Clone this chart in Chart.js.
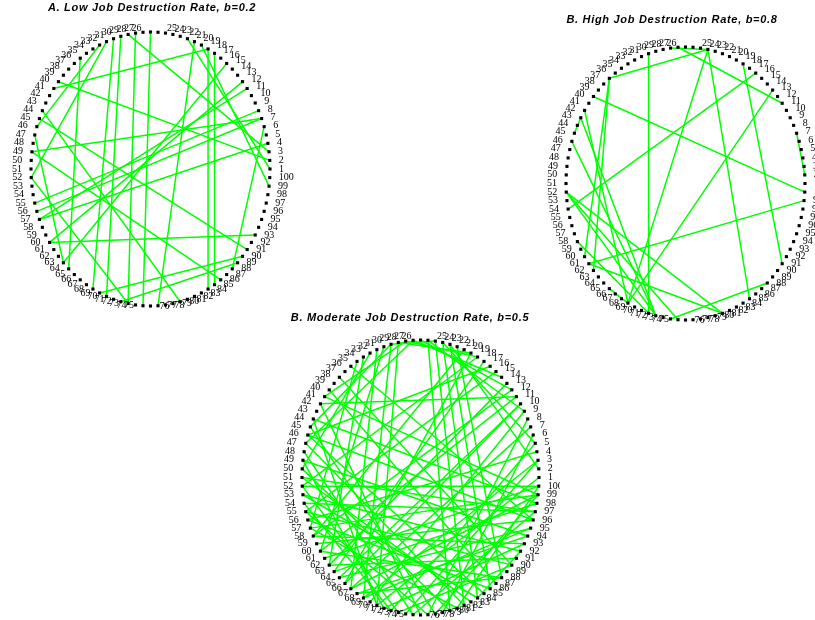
<!DOCTYPE html>
<html>
<head>
<meta charset="utf-8">
<script src="https://cdn.jsdelivr.net/npm/chart.js@4.4.1/dist/chart.umd.min.js"></script>
<style>
  html, body { margin: 0; padding: 0; background: #ffffff; }
  body { width: 815px; height: 620px; position: relative; overflow: hidden; }
  canvas { position: absolute; }
</style>
</head>
<body>
<canvas id="lowRate" width="300" height="320" style="left:0px;top:0px"></canvas>
<canvas id="highRate" width="275" height="330" style="left:540px;top:0px"></canvas>
<canvas id="modRate" width="290" height="310" style="left:270px;top:310px"></canvas>
<script>
// Worker ids placed around the ring (1 at the right, counter-clockwise)
const nodeIds = Array.from({ length: 100 }, (_, i) => i + 1);

// Links between workers for each job destruction rate
const edgesLow = [
  [18, 41], [2, 40], [3, 29], [26, 75], [31, 68], [30, 70], [28, 73],
  [32, 52], [7, 49], [11, 57], [8, 55], [18, 84], [17, 85], [20, 77], [45, 91],
  [49, 86], [52, 73], [60, 93], [63, 15], [56, 7], [57, 4], [69, 90], [72, 89],
  [88, 6], [21, 1], [33, 46], [12, 60], [44, 80], [19, 99], [47, 63], [36, 64]
];

const edgesHigh = [
  [31, 71], [28, 23], [27, 11], [23, 37], [23, 85], [23, 68], [18, 91], [16, 54],
  [13, 68], [40, 100], [99, 61], [52, 81], [52, 72], [52, 75], [37, 60], [37, 62],
  [42, 68], [43, 72], [46, 72], [45, 43], [7, 2], [88, 74], [61, 81], [65, 68], [58, 71]
];

const edgesModerate = [
  // top to bottom
  [24, 82], [23, 84], [22, 86], [25, 80], [21, 88], [29, 70], [30, 68], [32, 66],
  // top to left
  [28, 41], [30, 45], [33, 50], [35, 57], [27, 47], [31, 60], [34, 62],
  // top to right
  [28, 18], [29, 19], [24, 30], [26, 12], [25, 9], [23, 5], [27, 14], [22, 2],
  // left to right
  [41, 99], [42, 11], [44, 98], [46, 96], [49, 94], [52, 100],
  [53, 92], [54, 97], [55, 90], [56, 4], [57, 99], [58, 93], [59, 96], [60, 88],
  [61, 100], [62, 91], [63, 98], [64, 95], [65, 10],
  [51, 97], [66, 99], [67, 94], [68, 3],
  // left to bottom
  [45, 78], [47, 82], [48, 75], [50, 80], [52, 73], [53, 84], [55, 77], [57, 81],
  [44, 70], [46, 85], [49, 71], [51, 83], [54, 72], [56, 86], [42, 76],
  // right to bottom
  [1, 70], [3, 74], [5, 72], [7, 66], [9, 69], [10, 64], [11, 60], [12, 58],
  [13, 62], [15, 55], [93, 71], [95, 68], [97, 75], [90, 73], [88, 67], [99, 78],
  [100, 81], [92, 84], [8, 77], [6, 79],
  // remaining
  [18, 52], [17, 63], [16, 46], [19, 65], [20, 58], [36, 96], [38, 90], [40, 87]
];

const panelTitles = [
  'A. Low Job Destruction Rate, b=0.2',
  'B. High Job Destruction Rate, b=0.8',
  'B. Moderate Job Destruction Rate, b=0.5'
];

// Circle layout: position of a worker on the unit ring
function ringPos(id) {
  const a = (id - 1) * 2 * Math.PI / nodeIds.length;
  return { x: Math.cos(a), y: Math.sin(a) };
}

// Draws the worker numbers around the ring and the panel heading
const ringLabels = {
  id: 'ringLabels',
  afterDatasetsDraw(chart, args, opts) {
    const ctx = chart.ctx;
    const dsIndex = chart.data.datasets.findIndex(d => d.label === 'workers');
    const meta = chart.getDatasetMeta(dsIndex);
    ctx.save();
    ctx.fillStyle = '#000';
    ctx.font = '10px "Liberation Serif", "DejaVu Serif", serif';
    ctx.textBaseline = 'middle';
    meta.data.forEach((pt, i) => {
      const id = nodeIds[i];
      const a = (id - 1) * 2 * Math.PI / nodeIds.length;
      const leftSide = id >= 26 && id <= 75;
      const s = Math.sin(a);
      ctx.textAlign = leftSide ? 'right' : 'left';
      const x = pt.x + (leftSide ? -opts.gap : opts.gap);
      const y = pt.y - (s > 0 ? opts.lift * s : 0);
      ctx.fillText(String(id), x, y);
    });
    const area = chart.chartArea;
    ctx.font = 'italic bold 11px "Liberation Sans", Arial, sans-serif';
    if ('letterSpacing' in ctx) ctx.letterSpacing = '0.7px';
    ctx.textAlign = 'center';
    ctx.fillText(opts.title, (area.left + area.right) / 2 + opts.titleDx, area.top - opts.titleDy);
    ctx.restore();
  }
};

function buildNetwork(canvasId, edges, title, padding, titleDx, titleDy) {
  const datasets = edges.map(([a, b]) => ({
    label: 'link',
    data: [ringPos(a), ringPos(b)],
    showLine: true,
    borderColor: '#00ff00',
    borderWidth: 1.5,
    pointRadius: 0,
    clip: false,
    order: 1
  }));
  datasets.push({
    label: 'workers',
    data: nodeIds.map(ringPos),
    pointStyle: 'rect',
    pointRadius: 2.2,
    backgroundColor: '#000',
    borderWidth: 0,
    clip: false,
    order: 0
  });
  return new Chart(document.getElementById(canvasId), {
    type: 'scatter',
    data: { datasets },
    options: {
      responsive: false,
      animation: false,
      events: [],
      layout: { padding },
      scales: {
        x: { type: 'linear', min: -1, max: 1, display: false },
        y: { type: 'linear', min: -1, max: 1, display: false }
      },
      plugins: {
        legend: { display: false },
        tooltip: { enabled: false },
        ringLabels: { title, gap: 9, lift: 4, titleDx, titleDy }
      }
    },
    plugins: [ringLabels]
  });
}

buildNetwork('lowRate', edgesLow, panelTitles[0], { left: 31, right: 30, top: 32, bottom: 14 }, 1.5, 24);
buildNetwork('highRate', edgesHigh, panelTitles[1], { left: 26, right: 10, top: 47, bottom: 10 }, -13.5, 27);
buildNetwork('modRate', edgesModerate, panelTitles[2], { left: 32, right: 21, top: 30, bottom: 5 }, -10.5, 22);
</script>
</body>
</html>
